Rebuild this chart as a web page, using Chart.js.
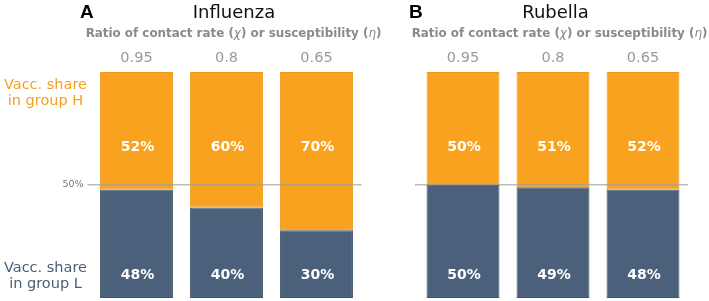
<!DOCTYPE html>
<html><head><meta charset="utf-8">
<script src="https://cdn.jsdelivr.net/npm/chart.js@4.4.1/dist/chart.umd.min.js"></script>
<style>
body{margin:0;background:#fff;}
#wrap{position:relative;width:709px;height:301px;overflow:hidden;font-family:"DejaVu Sans",sans-serif;}
.cv{position:absolute;top:0;height:301px;}
.abs{position:absolute;white-space:nowrap;line-height:1;}
.letter{font-family:"Liberation Sans",Arial,sans-serif;font-weight:bold;font-size:19px;color:#000;top:2px;}
.ttl{font-size:18px;color:#111;top:3px;transform:translateX(-50%);}
.axt{font-size:11.9px;font-weight:bold;color:#8a8a8a;top:28px;transform:translateX(-50%);}
.axt i{font-weight:normal;}
.side{position:absolute;left:0;width:91px;text-align:center;font-size:14.5px;line-height:16px;}
</style></head>
<body><div id="wrap">
<div class="cv" style="left:0;width:368px"><canvas id="cA" width="368" height="301"></canvas></div>
<div class="cv" style="left:368px;width:341px"><canvas id="cB" width="341" height="301"></canvas></div>
<div class="abs letter" style="left:80px">A</div>
<div class="abs ttl" style="left:234px">Influenza</div>
<div class="abs axt" style="left:233.5px">Ratio of contact rate (<i>χ</i>) or susceptibility (<i>η</i>)</div>
<div class="abs letter" style="left:409px">B</div>
<div class="abs ttl" style="left:555.5px">Rubella</div>
<div class="abs axt" style="left:559.5px">Ratio of contact rate (<i>χ</i>) or susceptibility (<i>η</i>)</div>
<div class="side" style="top:76px;color:#F5A024">Vacc. share<br>in group H</div>
<div class="side" style="top:259px;color:#4A5E78">Vacc. share<br>in group L</div>
</div>
<script>
// ---- data ----
const ratios = ["0.95", "0.8", "0.65"];
const influenzaH = [52, 60, 70];
const influenzaL = [48, 40, 30];
const rubellaH = [50, 51, 52];
const rubellaL = [50, 49, 48];
const refLine = 50;

const ORANGE = "#F8A21F", ORANGE_B = "#EC981C";
const BLUE = "#4B607A", BLUE_B = "#3F5167";

const labelPlugin = {
  id: "barLabels",
  afterDatasetsDraw(chart) {
    const ctx = chart.ctx, y = chart.scales.y;
    const levels = [9.8, 66.7]; // label height within bar (L, H)
    ctx.save();
    ctx.fillStyle = "#fff";
    ctx.font = "bold 14px 'DejaVu Sans'";
    ctx.textAlign = "center";
    ctx.textBaseline = "middle";
    chart.data.datasets.forEach((ds, di) => {
      const meta = chart.getDatasetMeta(di);
      meta.data.forEach((bar, i) => {
        ctx.fillText(ds.data[i] + "%", bar.x + 1, y.getPixelForValue(levels[di]));
      });
    });
    ctx.restore();
  }
};

function makeChart(id, H, L, yWidth, showYLabel, padRight) {
  return new Chart(document.getElementById(id), {
    type: "bar",
    data: {
      labels: ratios,
      datasets: [
        { label: "Vacc. share in group L", data: L, backgroundColor: BLUE, borderColor: BLUE_B, borderWidth: 1, borderSkipped: false },
        { label: "Vacc. share in group H", data: H, backgroundColor: ORANGE, borderColor: ORANGE_B, borderWidth: 1, borderSkipped: false }
      ]
    },
    options: {
      responsive: false,
      animation: false,
      devicePixelRatio: 1,
      layout: { padding: { left: 0, right: padRight, top: 0, bottom: 3 } },
      datasets: { bar: { categoryPercentage: 1, barPercentage: 0.81 } },
      plugins: { legend: { display: false }, tooltip: { enabled: false }, title: { display: false } },
      scales: {
        x: {
          position: "top", stacked: true,
          grid: { display: false, drawTicks: false },
          border: { display: false },
          ticks: { color: "#9a9a9a", font: { family: "DejaVu Sans", size: 14.5 }, padding: 5 },
          afterFit(axis) { axis.height = 72; axis.paddingLeft = 0; axis.paddingRight = 0; }
        },
        y: {
          stacked: true, min: 0, max: 100,
          afterBuildTicks(axis) { axis.ticks = [{ value: refLine }]; },
          afterFit(axis) { axis.width = yWidth; axis.paddingTop = 0; axis.paddingBottom = 0; },
          border: { display: false },
          grid: { z: 1, color: "rgba(160,160,160,0.7)", lineWidth: 1.6, tickLength: showYLabel ? 4 : 3, drawTicks: true },
          ticks: { display: showYLabel, color: "#777", padding: 4, font: { family: "DejaVu Sans", size: 9.5 },
                   callback: v => v + "%" }
        }
      }
    },
    plugins: [labelPlugin]
  });
}

makeChart("cA", influenzaH, influenzaL, 91.5, true, 6.5);
makeChart("cB", rubellaH, rubellaL, 50, false, 21);
</script>
</body></html>
